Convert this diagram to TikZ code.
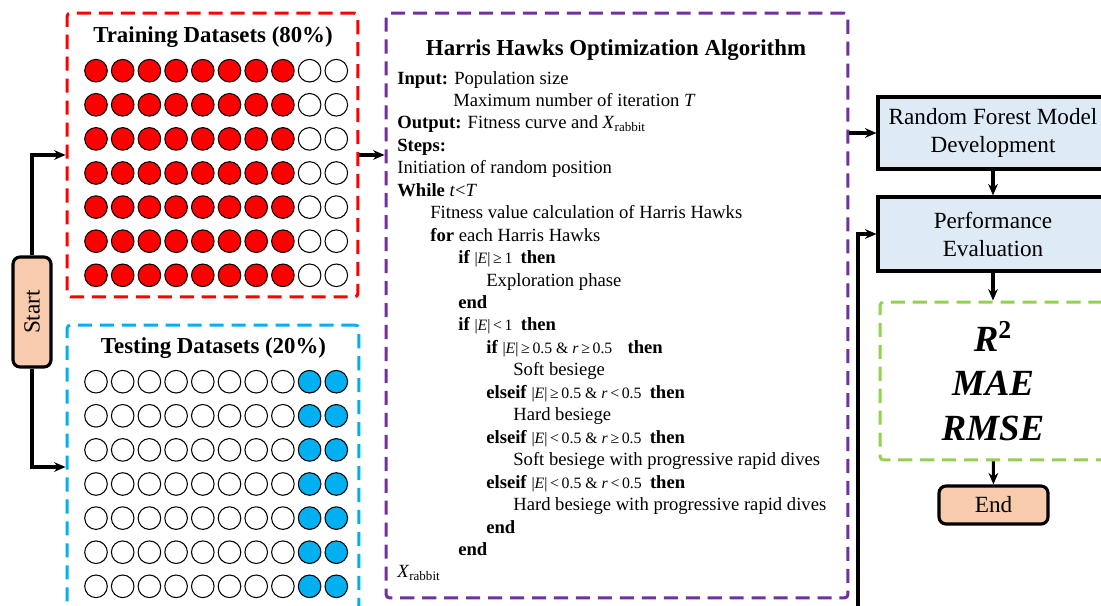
\documentclass[tikz,border=0pt]{standalone}
\usepackage{fontspec}
\setmainfont{Liberation Serif}
\usetikzlibrary{positioning,arrows.meta}
\definecolor{trainred}{HTML}{FF0000}
\definecolor{testblue}{HTML}{00B0F0}
\definecolor{hhopurple}{HTML}{7030A0}
\definecolor{metricgreen}{HTML}{92D050}
\definecolor{termfill}{HTML}{F8CBAD}
\definecolor{procfill}{HTML}{DEEBF7}
\newcommand{\cnd}[1]{{\fontsize{9}{10}\selectfont#1}}
\begin{document}
\begin{tikzpicture}
  [x=0.02cm, y=-0.02cm,
   group/.style={draw, dash pattern=on 8pt off 4.5pt, line width=1.7pt, rounded corners=2pt, inner sep=0pt},
   dot/.style={draw, line width=0.6pt},
   title/.style={anchor=base, inner sep=0pt, font=\fontsize{13}{15}\selectfont\bfseries},
   algo/.style={anchor=base west, inner sep=0pt, font=\fontsize{10.6}{12.8}\selectfont},
   proc/.style={draw, line width=1.8pt, fill=procfill, align=center, minimum width=4.6cm, font=\fontsize{13.2}{16}\selectfont},
   term/.style={draw, line width=1.8pt, fill=termfill, rounded corners=4pt, minimum height=0.76cm, font=\fontsize{13.2}{16}\selectfont},
   arr/.style={-{Stealth[length=6.5pt,width=5.5pt]}, line width=1.8pt}]
  \clip[use as bounding box] (0,0) rectangle (1101,605);

  % data split
  \node[group, draw=trainred, minimum width=5.82cm, minimum height=5.68cm] (train) at (212.5,155) {};
  \node[group, draw=testblue, minimum width=5.84cm, minimum height=5.68cm] (test) at (213,467) {};
  \node[title] (traintitle) at (213,42) {Training Datasets (80\%)};
  \node[title] (testtitle) at (213.5,353) {Testing Datasets (20\%)};
  \foreach \r in {0,...,6} {
    \foreach \c in {0,...,7} {
      \draw[dot, fill=trainred] ({96+26.7*\c},{70.7+34.1*\r}) circle[radius=0.226cm];
      \draw[dot, fill=white] ({96+26.7*\c},{381.7+34.1*\r}) circle[radius=0.226cm];
    }
    \foreach \c in {8,9} {
      \draw[dot, fill=white] ({96+26.7*\c},{70.7+34.1*\r}) circle[radius=0.226cm];
      \draw[dot, fill=testblue] ({96+26.7*\c},{381.7+34.1*\r}) circle[radius=0.226cm];
    }
  }

  % start
  \node[term, rotate=90, minimum width=2.2cm] (start) at (32,312) {Start};

  % HHO
  \node[group, draw=hhopurple, minimum width=9.24cm, minimum height=11.7cm] (hho) at (617,305.5) {};
  \node[title] (hhotitle) at (616,55) {Harris Hawks Optimization Algorithm};
  \foreach \n/\ind/\txt in {
      1/0/{\textbf{Input:} Population size},
      2/56/{Maximum number of iteration \textit{T}},
      3/0/{\textbf{Output:} Fitness curve and \textit{X}\textsubscript{rabbit}},
      4/0/{\textbf{Steps:}},
      5/0/{Initiation of random position},
      6/0/{\textbf{While} \textit{t}<\textit{T}},
      7/33/{Fitness value calculation of Harris Hawks},
      8/33/{\textbf{for} each Harris Hawks},
      9/61/{\textbf{if} \cnd{|\textit{E}|\,≥\,1}\hspace{2pt} \textbf{then}},
      10/89/{Exploration phase},
      11/61/{\textbf{end}},
      12/61/{\textbf{if} \cnd{|\textit{E}|\,<\,1}\hspace{2pt} \textbf{then}},
      13/89/{\textbf{if} \cnd{|\textit{E}|\,≥\,0.5 \& \textit{r}\,≥\,0.5}\hspace{6pt} \textbf{then}},
      14/116/{Soft besiege},
      15/89/{\textbf{elseif} \cnd{|\textit{E}|\,≥\,0.5 \& \textit{r}\,<\,0.5}\hspace{2pt} \textbf{then}},
      16/116/{Hard besiege},
      17/89/{\textbf{elseif} \cnd{|\textit{E}|\,<\,0.5 \& \textit{r}\,≥\,0.5}\hspace{2pt} \textbf{then}},
      18/116/{Soft besiege with progressive rapid dives},
      19/89/{\textbf{elseif} \cnd{|\textit{E}|\,<\,0.5 \& \textit{r}\,<\,0.5}\hspace{2pt} \textbf{then}},
      20/116/{Hard besiege with progressive rapid dives},
      21/89/{\textbf{end}},
      22/61/{\textbf{end}},
      23/0/{\textit{X}\textsubscript{rabbit}}}
    \node[algo] (l\n) at ({397+\ind},{84+22.45*(\n-1)}) {\txt};

  % model and evaluation
  \node[proc, minimum height=1.44cm] (rf) at (993,133) {Random Forest Model\\Development};
  \node[proc, minimum height=1.48cm] (perf) at (993,234) {Performance\\Evaluation};
  \node[group, draw=metricgreen, minimum width=4.52cm, minimum height=3.16cm, align=center,
        font=\fontsize{21}{25.3}\selectfont\bfseries\itshape] (metric) at (993,381)
        {R\textsuperscript{\upshape 2}\\MAE\\RMSE};
  \node[term, minimum width=2.18cm] (end) at (993.5,505) {End};
  \coordinate (loop) at (858,620);

  \draw[arr] (start) |- (train);
  \draw[arr] (start) |- (test);
  \draw[arr] (train) -- (train -| hho.west);
  \draw[arr] (hho.east |- rf) -- (rf);
  \draw[arr] (rf) -- (perf);
  \draw[arr] (perf) -- (metric);
  \draw[arr] (metric) -- (end);
  \draw[arr] (loop) |- (perf);
\end{tikzpicture}
\end{document}
